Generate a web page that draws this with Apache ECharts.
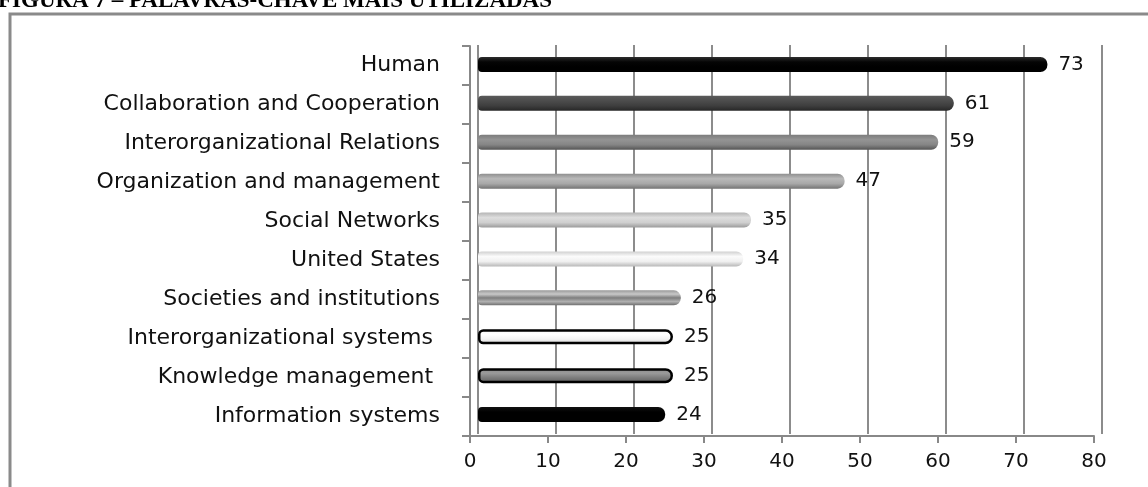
<!DOCTYPE html>
<html>
<head>
<meta charset="utf-8">
<script src="https://cdn.jsdelivr.net/npm/echarts@6/dist/echarts.min.js"></script>
<style>
html,body{margin:0;padding:0;background:#fff;}
#chart{width:1148px;height:487px;}
</style>
</head>
<body>
<div id="chart"></div>
<script>
const categories = [
  "Human",
  "Collaboration and Cooperation",
  "Interorganizational Relations",
  "Organization and management",
  "Social Networks",
  "United States",
  "Societies and institutions",
  "Interorganizational systems ",
  "Knowledge management ",
  "Information systems"
];
const values = [73, 61, 59, 47, 35, 34, 26, 25, 25, 24];
const xTicks = [0, 10, 20, 30, 40, 50, 60, 70, 80];
const titleText = "FIGURA 7 – PALAVRAS-CHAVE MAIS UTILIZADAS";

function vgrad(stops) {
  return new echarts.graphic.LinearGradient(0, 0, 0, 1,
    stops.map((c, i) => ({ offset: i / (stops.length - 1), color: c })));
}
const barStyles = [
  { color: vgrad(['#2e2e2e', '#050505', '#000000', '#000000']) },
  { color: vgrad(['#5a5a5a', '#4c4c4c', '#3e3e3e', '#262626']) },
  { color: vgrad(['#7c7c7c', '#949494', '#858585', '#555555']) },
  { color: vgrad(['#8e8e8e', '#b9b9b9', '#a8a8a8', '#747474']) },
  { color: vgrad(['#b5b5b5', '#dddddd', '#cfcfcf', '#9a9a9a']) },
  { color: vgrad(['#d0d0d0', '#fbfbfb', '#f0f0f0', '#b8b8b8']) },
  { color: vgrad(['#9a9a9a', '#c8c8c8', '#7e7e7e', '#b0b0b0', '#6e6e6e']) },
  { color: vgrad(['#f4f4f4', '#ffffff', '#f2f2f2', '#cfcfcf']), borderColor: '#000', borderWidth: 2.5 },
  { color: vgrad(['#8a8a8a', '#9a9a9a', '#7a7a7a', '#5e5e5e']), borderColor: '#000', borderWidth: 2.5 },
  { color: vgrad(['#111111', '#000000', '#000000', '#000000']) }
];

const chart = echarts.init(document.getElementById('chart'), null, { renderer: 'canvas' });
const FONT = 'DejaVu Sans';

chart.setOption({
  backgroundColor: '#ffffff',
  animation: false,
  textStyle: { fontFamily: FONT },
  graphic: [
    {
      type: 'rect', z: 0,
      shape: { x: 10, y: 14, width: 1300, height: 700 },
      style: { fill: 'none', stroke: '#8a8a8a', lineWidth: 3 }
    },
    {
      type: 'text', x: -2, y: 13, z: 10,
      style: { text: titleText, font: 'bold 23px "Liberation Serif"', fill: '#000', verticalAlign: 'bottom' }
    }
  ],
  grid: [
    { left: 478, right: 46, top: 45, bottom: 53 },
    { left: 470, right: 54, top: 46, bottom: 51 }
  ],
  xAxis: [
    {
      gridIndex: 0, type: 'value', min: 0, max: 80, interval: 10,
      axisLine: { show: false }, axisTick: { show: false }, axisLabel: { show: false },
      splitLine: { show: true, lineStyle: { color: '#8c8c8c', width: 2 } }
    },
    {
      gridIndex: 1, type: 'value', min: 0, max: 80, interval: 10,
      axisLine: { show: true, lineStyle: { color: '#888', width: 2 } },
      axisTick: { show: true, length: 7, lineStyle: { color: '#888', width: 2 } },
      axisLabel: {
        margin: 16, fontSize: 20, color: '#111', fontFamily: FONT,
        formatter: v => String(xTicks.includes(v) ? v : '')
      },
      splitLine: { show: false }
    }
  ],
  yAxis: [
    {
      gridIndex: 0, type: 'category', data: categories, inverse: true,
      axisLine: { show: false }, axisTick: { show: false }, axisLabel: { show: false },
      splitLine: { show: false }
    },
    {
      gridIndex: 1, type: 'category', data: categories, inverse: true,
      axisLine: { show: true, lineStyle: { color: '#888', width: 2 } },
      axisTick: { show: true, length: 8, lineStyle: { color: '#888', width: 2 } },
      axisLabel: { margin: 30, fontSize: 22, color: '#111', fontFamily: FONT },
      splitLine: { show: false }
    }
  ],
  series: [
    {
      type: 'bar', xAxisIndex: 0, yAxisIndex: 0, barWidth: 15, z: 5,
      data: values.map((v, i) => ({ value: v, itemStyle: Object.assign({ borderRadius: [4, 7, 7, 4] }, barStyles[i]) })),
      label: {
        show: true, position: 'right', distance: 11,
        fontSize: 20, color: '#111', fontFamily: FONT
      }
    }
  ]
});
</script>
</body>
</html>
